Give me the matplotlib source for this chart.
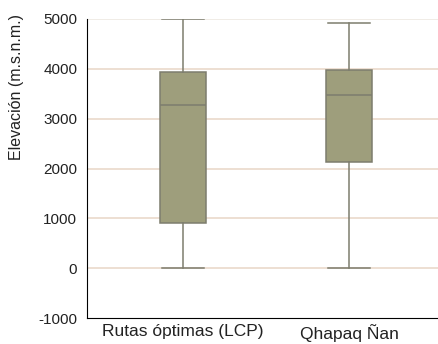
import matplotlib.pyplot as plt

plt.rcParams['font.family'] = ['Liberation Sans', 'DejaVu Sans']
plt.rcParams['axes.unicode_minus'] = False

# estadísticos de elevación por tipo de ruta
rutas = ['Rutas óptimas (LCP)', 'Qhapaq Ñan']
minimos = [0, 0]
q1 = [910, 2130]
medianas = [3265, 3465]
q3 = [3940, 3980]
maximos = [5000, 4910]

stats = []
for i, r in enumerate(rutas):
    stats.append({'label': r, 'whislo': minimos[i], 'q1': q1[i], 'med': medianas[i],
                  'q3': q3[i], 'whishi': maximos[i], 'fliers': []})

fig = plt.figure(figsize=(4.39, 3.44), dpi=100)
ax = fig.add_axes([87/439, 26/344, 352/439, 299/344])

borde = '#7d7d6e'
ax.bxp(stats, positions=[0, 1], widths=0.28, patch_artist=True, showfliers=False,
       boxprops=dict(facecolor='#9e9e7c', edgecolor=borde, linewidth=1.1),
       medianprops=dict(color=borde, linewidth=1.1),
       whiskerprops=dict(color=borde, linewidth=1.1),
       capprops=dict(color=borde, linewidth=1.1),
       capwidths=0.25)

ax.set_xlim(-0.577, 1.54)
ax.set_ylim(-1000, 5000)
ax.set_yticks(range(-1000, 5001, 1000))
for y in range(0, 5001, 1000):
    ax.axhline(y, color='#e8d6c6' if y < 5000 else '#ece7df', linewidth=1.1, zorder=0)

ax.spines['top'].set_visible(False)
ax.spines['right'].set_visible(False)
ax.tick_params(length=0, colors='#222222')
ax.tick_params(axis='y', labelsize=11, pad=7)
ax.tick_params(axis='x', labelsize=12.5, pad=4)
ax.set_ylabel('Elevación (m.s.n.m.)', fontsize=11.5, color='#222222')
ax.yaxis.set_label_coords(-0.18, 0.771)

fig.savefig('out.png', dpi=100)
